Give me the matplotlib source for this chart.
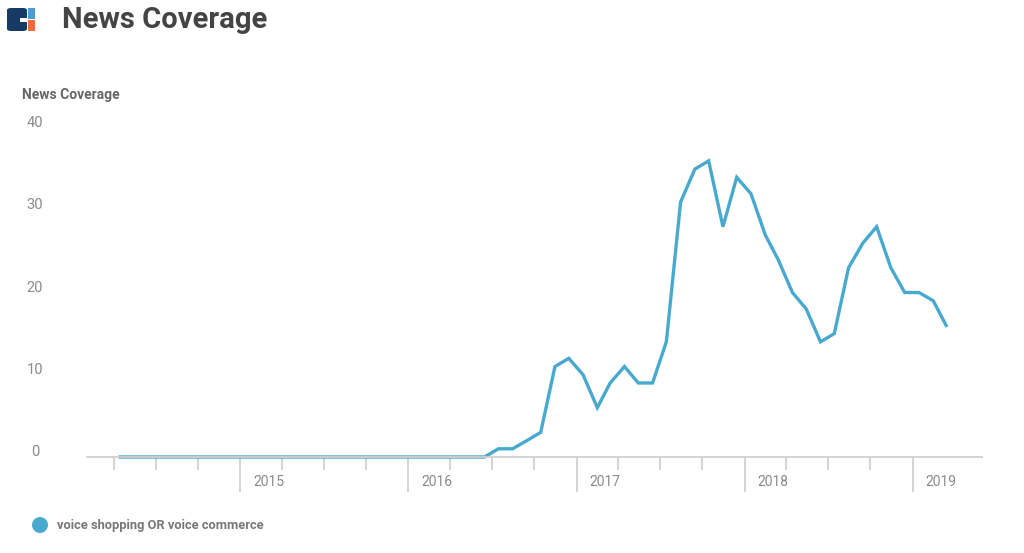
import numpy as np
import pandas as pd
import matplotlib
matplotlib.use('Agg')
import matplotlib.pyplot as plt
import matplotlib.dates as mdates
from matplotlib.patches import Rectangle, FancyBboxPatch, Ellipse
from matplotlib.transforms import blended_transform_factory, ScaledTranslation

# monthly news coverage, Apr 2014 .. Mar 2019
months = pd.date_range("2014-04-01", "2019-03-01", freq="MS") + pd.Timedelta(days=14)
coverage = [0] * 27 + [
    1, 1, 2, 3, 11, 12,                      # Jul-Dec 2016
    10, 6, 9, 11, 9, 9, 14, 31, 35, 36, 28, 34,  # 2017
    32, 27, 24, 20, 18, 14, 15, 23, 26, 28, 23, 20,  # 2018
    20, 19, 16,                              # Jan-Mar 2019
]
series_name = "voice shopping OR voice commerce"
y_ticks = [0, 10, 20, 30, 40]
years = [2015, 2016, 2017, 2018, 2019]

LINE = "#48A9CF"
W, H = 1024, 553

plt.rcParams["font.family"] = ["Roboto", "DejaVu Sans"]
fig = plt.figure(figsize=(W / 100, H / 100), dpi=100)
ax = fig.add_axes([87 / W, 1 - 457 / H, (982 - 87) / W, 329 / H])

ax.plot(months, coverage, color=LINE, lw=2.4, clip_on=False, solid_joinstyle="miter")
ax.set_xlim(pd.Timestamp("2014-02-02"), pd.Timestamp("2019-06-01"))
ax.set_ylim(0, 40)

for s in ["left", "right", "top"]:
    ax.spines[s].set_visible(False)
ax.spines["bottom"].set_color("#d0d0d0")
ax.spines["bottom"].set_linewidth(1.3)

quarters = pd.date_range("2014-04-01", "2019-01-01", freq="QS")
ax.set_xticks([q for q in quarters if q.month == 1])
ax.set_xticks([q for q in quarters if q.month != 1], minor=True)
ax.tick_params(axis="x", which="major", length=25, width=1.3, color="#d0d0d0", labelbottom=False)
ax.tick_params(axis="x", which="minor", length=9, width=1.3, color="#d0d0d0", labelbottom=False)
ax.set_yticks(y_ticks)
ax.tick_params(axis="y", length=0, labelleft=False)

# year labels to the right of the long ticks
tr_x = blended_transform_factory(ax.transData, ax.transAxes)
for y in years:
    ax.text(pd.Timestamp(f"{y}-01-01"), 0, str(y),
            transform=tr_x + ScaledTranslation(13 / 100, -25 / 100, fig.dpi_scale_trans),
            ha="left", va="center", fontsize=10, color="#8a8a8a", clip_on=False)

# y labels at the far left
tr_y = blended_transform_factory(fig.transFigure, ax.transData)
for v in y_ticks:
    ax.text(35 / W, v, str(v), transform=tr_y + ScaledTranslation(0, 5 / 100, fig.dpi_scale_trans),
            ha="center", va="center", fontsize=10.5, color="#8a8a8a", clip_on=False)

fig.text(22 / W, 1 - 95 / H, "News Coverage", ha="left", va="center",
         fontsize=10, fontweight="bold", color="#666666")

# header: logo + title
fig.patches.append(FancyBboxPatch((7 / W, 1 - 31 / H), 20 / W, 23 / H,
                                  boxstyle="round,pad=0,rounding_size=0.004",
                                  transform=fig.transFigure, fc="#173A64", ec="none"))
fig.patches.append(Rectangle((20 / W, 1 - 22 / H), 7 / W, 4 / H,
                             transform=fig.transFigure, fc="white", ec="none"))
fig.patches.append(Rectangle((28 / W, 1 - 19 / H), 7 / W, 11 / H,
                             transform=fig.transFigure, fc="#4C9BD2", ec="none"))
fig.patches.append(Rectangle((28 / W, 1 - 31 / H), 7 / W, 11 / H,
                             transform=fig.transFigure, fc="#F26A35", ec="none"))
fig.text(62 / W, 1 - 20 / H, "News Coverage", ha="left", va="center",
         fontsize=21, fontweight="bold", color="#444444")

# legend
fig.patches.append(Ellipse((40 / W, 1 - 525 / H), 16 / W, 16 / H, transform=fig.transFigure,
                           fc=LINE, ec="none"))
fig.text(57 / W, 1 - 525 / H, series_name, ha="left", va="center",
         fontsize=9.3, fontweight="bold", color="#777777")

fig.savefig("out.png", dpi=100)
